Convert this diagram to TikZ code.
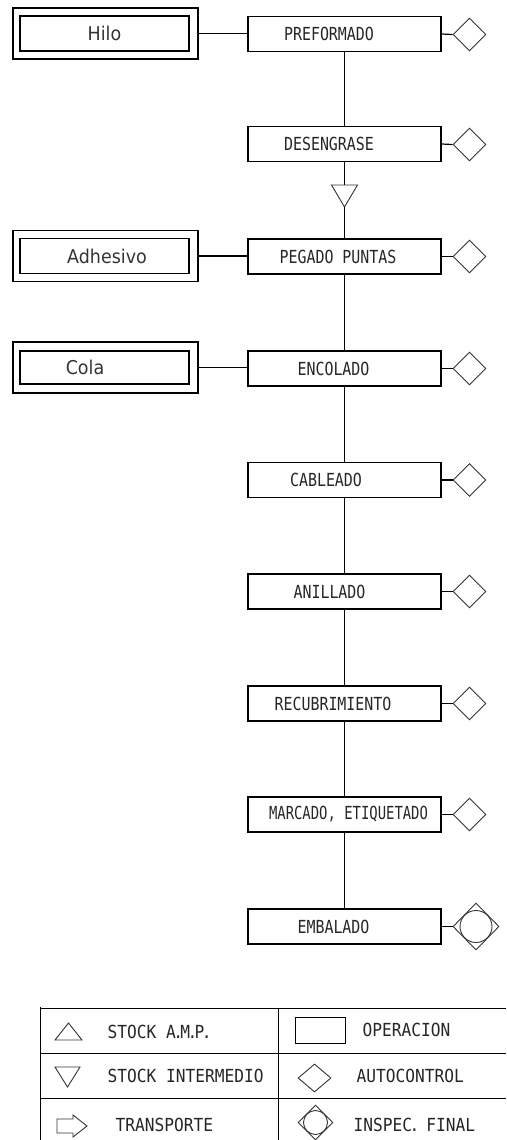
\documentclass[tikz,border=0pt]{standalone}
\usepackage{fontspec}
\newfontfamily\cadfont[FakeStretch=0.83]{DejaVu Sans Mono}
\newfontfamily\legfont[FakeStretch=0.9]{DejaVu Sans Mono}
\newfontfamily\labfont[FakeStretch=0.92]{DejaVu Sans}
\usetikzlibrary{shapes.geometric}
\newcommand{\pd}{\kern-2.6pt.\kern-2.6pt}
\begin{document}
\begin{tikzpicture}[x=1pt,y=-1pt,line width=1.2pt,
  op/.style={draw,rectangle,minimum width=193pt,minimum height=35pt,inner sep=0pt},
  optext/.style={font=\cadfont\fontsize{18}{20}\selectfont,text=black!85},
  legtext/.style={font=\legfont\fontsize{18}{20}\selectfont,text=black!85,anchor=west,inner sep=0pt},
  labtext/.style={font=\labfont\fontsize{19}{22}\selectfont,text=black!80,inner sep=0pt},
  supo/.style={draw,rectangle,minimum width=185pt,minimum height=51pt,inner sep=0pt},
  supi/.style={draw,rectangle,minimum width=169pt,minimum height=35pt,inner sep=0pt},
  ac/.style={draw,diamond,aspect=1,minimum width=33pt,minimum height=33pt,inner sep=0pt,line width=0.9pt,black!80},
  insp/.style={draw,diamond,aspect=1,minimum width=46pt,minimum height=47pt,inner sep=0pt,line width=0.9pt,black!80},
  inspc/.style={draw,circle,minimum size=32pt,inner sep=0pt,line width=0.9pt,black!80},
  sym/.style={line width=0.9pt,black!80},
  grid/.style={line width=1pt}]
\useasboundingbox (0,0) rectangle (506,1140);

% main operations
\node[op,label={[optext,xshift=-15.5pt]center:PREFORMADO}] (p1) at (344.5,34) {};
\node[op,label={[optext,xshift=-15.5pt]center:DESENGRASE}] (p2) at (344.5,144) {};
\node[op,label={[optext,xshift=-6.5pt]center:PEGADO PUNTAS}] (p3) at (344.5,256.5) {};
\node[op,label={[optext,xshift=-11pt]center:ENCOLADO}] (p4) at (344.5,368.5) {};
\node[op,label={[optext,xshift=-18.5pt]center:CABLEADO}] (p5) at (344.5,480) {};
\node[op,label={[optext,xshift=-15pt]center:ANILLADO}] (p6) at (344.5,591.5) {};
\node[op,label={[optext,xshift=-11.5pt]center:RECUBRIMIENTO}] (p7) at (344.5,703.5) {};
\node[op,label={[optext,xshift=4pt]center:\scalebox{0.93}[1]{MARCADO, ETIQUETADO}}] (p8) at (344.5,814.5) {};
\node[op,label={[optext,xshift=-11pt]center:EMBALADO}] (p9) at (344.5,926.5) {};

% autocontrol diamonds
\node[ac] (d1) at (469.5,34.5) {};
\node[ac] (d2) at (469.5,144.5) {};
\node[ac] (d3) at (469.5,256.5) {};
\node[ac] (d4) at (469.5,368.5) {};
\node[ac] (d5) at (469.5,480) {};
\node[ac] (d6) at (469.5,591.5) {};
\node[ac] (d7) at (469.5,703.5) {};
\node[ac] (d8) at (469.5,814.5) {};
\node[insp] (d9) at (476,926.5) {};
\node[inspc] (c9) at (476,926.5) {};

\foreach \i in {1,...,9} {\draw (p\i.east) -- (d\i.west);}

% spine
\draw (p1.south) -- (p2.north);
\coordinate (tt) at (344.5,185);
\coordinate (tb) at (344.5,207);
\draw (p2.south) -- (tt);
\draw[sym] (331.5,185) -- (357.5,185) -- (tb) -- cycle;
\draw (tb) -- (p3.north);
\draw (p3.south) -- (p4.north);
\draw (p4.south) -- (p5.north);
\draw (p5.south) -- (p6.north);
\draw (p6.south) -- (p7.north);
\draw (p7.south) -- (p8.north);
\draw (p8.south) -- (p9.north);

% supplies
\node[supo] (s1o) at (105.5,33.5) {};
\node[supi] (s1i) at (104.5,33.5) {};
\node[labtext] (s1t) at (104.5,33.5) {Hilo};
\node[supo] (s2o) at (105.5,256) {};
\node[supi] (s2i) at (104.5,256) {};
\node[labtext] (s2t) at (107,256) {Adhesivo};
\node[supo] (s3o) at (105.5,367.5) {};
\node[supi,minimum height=33pt] (s3i) at (104.5,367.5) {};
\node[labtext] (s3t) at (85,367.5) {Cola};
\draw (s1o.east) -- (s1o.east -| p1.west);
\draw (s2o.east) -- (s2o.east -| p3.west);
\draw (s3o.east) -- (s3o.east -| p4.west);

% legend grid
\draw[grid] (40,1008) -- (506,1008);
\draw[grid] (40,1053) -- (506,1053);
\draw[grid] (40,1098) -- (506,1098);
\draw[grid] (40,1007) -- (40,1140);
\draw[grid] (278,1008) -- (278,1140);

% legend row 1
\draw[sym] (55,1040) -- (82,1040) -- (68.5,1023) -- cycle;
\node[legtext] (l1) at (107,1032) {STOCK A\pd M\pd P\pd};
\node[draw,rectangle,minimum width=50pt,minimum height=26pt,inner sep=0pt,line width=0.9pt] (lop) at (320,1030) {};
\node[legtext] (l2) at (362,1030) {OPERACION};

% legend row 2
\draw[sym] (55,1067) -- (80,1067) -- (67.5,1087) -- cycle;
\node[legtext] (l3) at (107,1075.5) {STOCK INTERMEDIO};
\node[ac,minimum width=33pt,minimum height=28pt,aspect=1.18] (lac) at (314.5,1078) {};
\node[legtext] (l4) at (356,1076) {AUTOCONTROL};

% legend row 3
\draw[sym] (57,1119) -- (73,1119) -- (73,1115) -- (87,1126) -- (73,1137) -- (73,1133) -- (57,1133) -- cycle;
\node[legtext] (l5) at (115,1125) {TRANSPORTE};
\node[insp,minimum width=35pt,minimum height=35pt] (lin) at (315.5,1122.5) {};
\node[inspc,minimum size=24pt] (linc) at (315.5,1122.5) {};
\node[legtext] (l6) at (353,1125) {INSPEC\pd{} FINAL};
\end{tikzpicture}
\end{document}
